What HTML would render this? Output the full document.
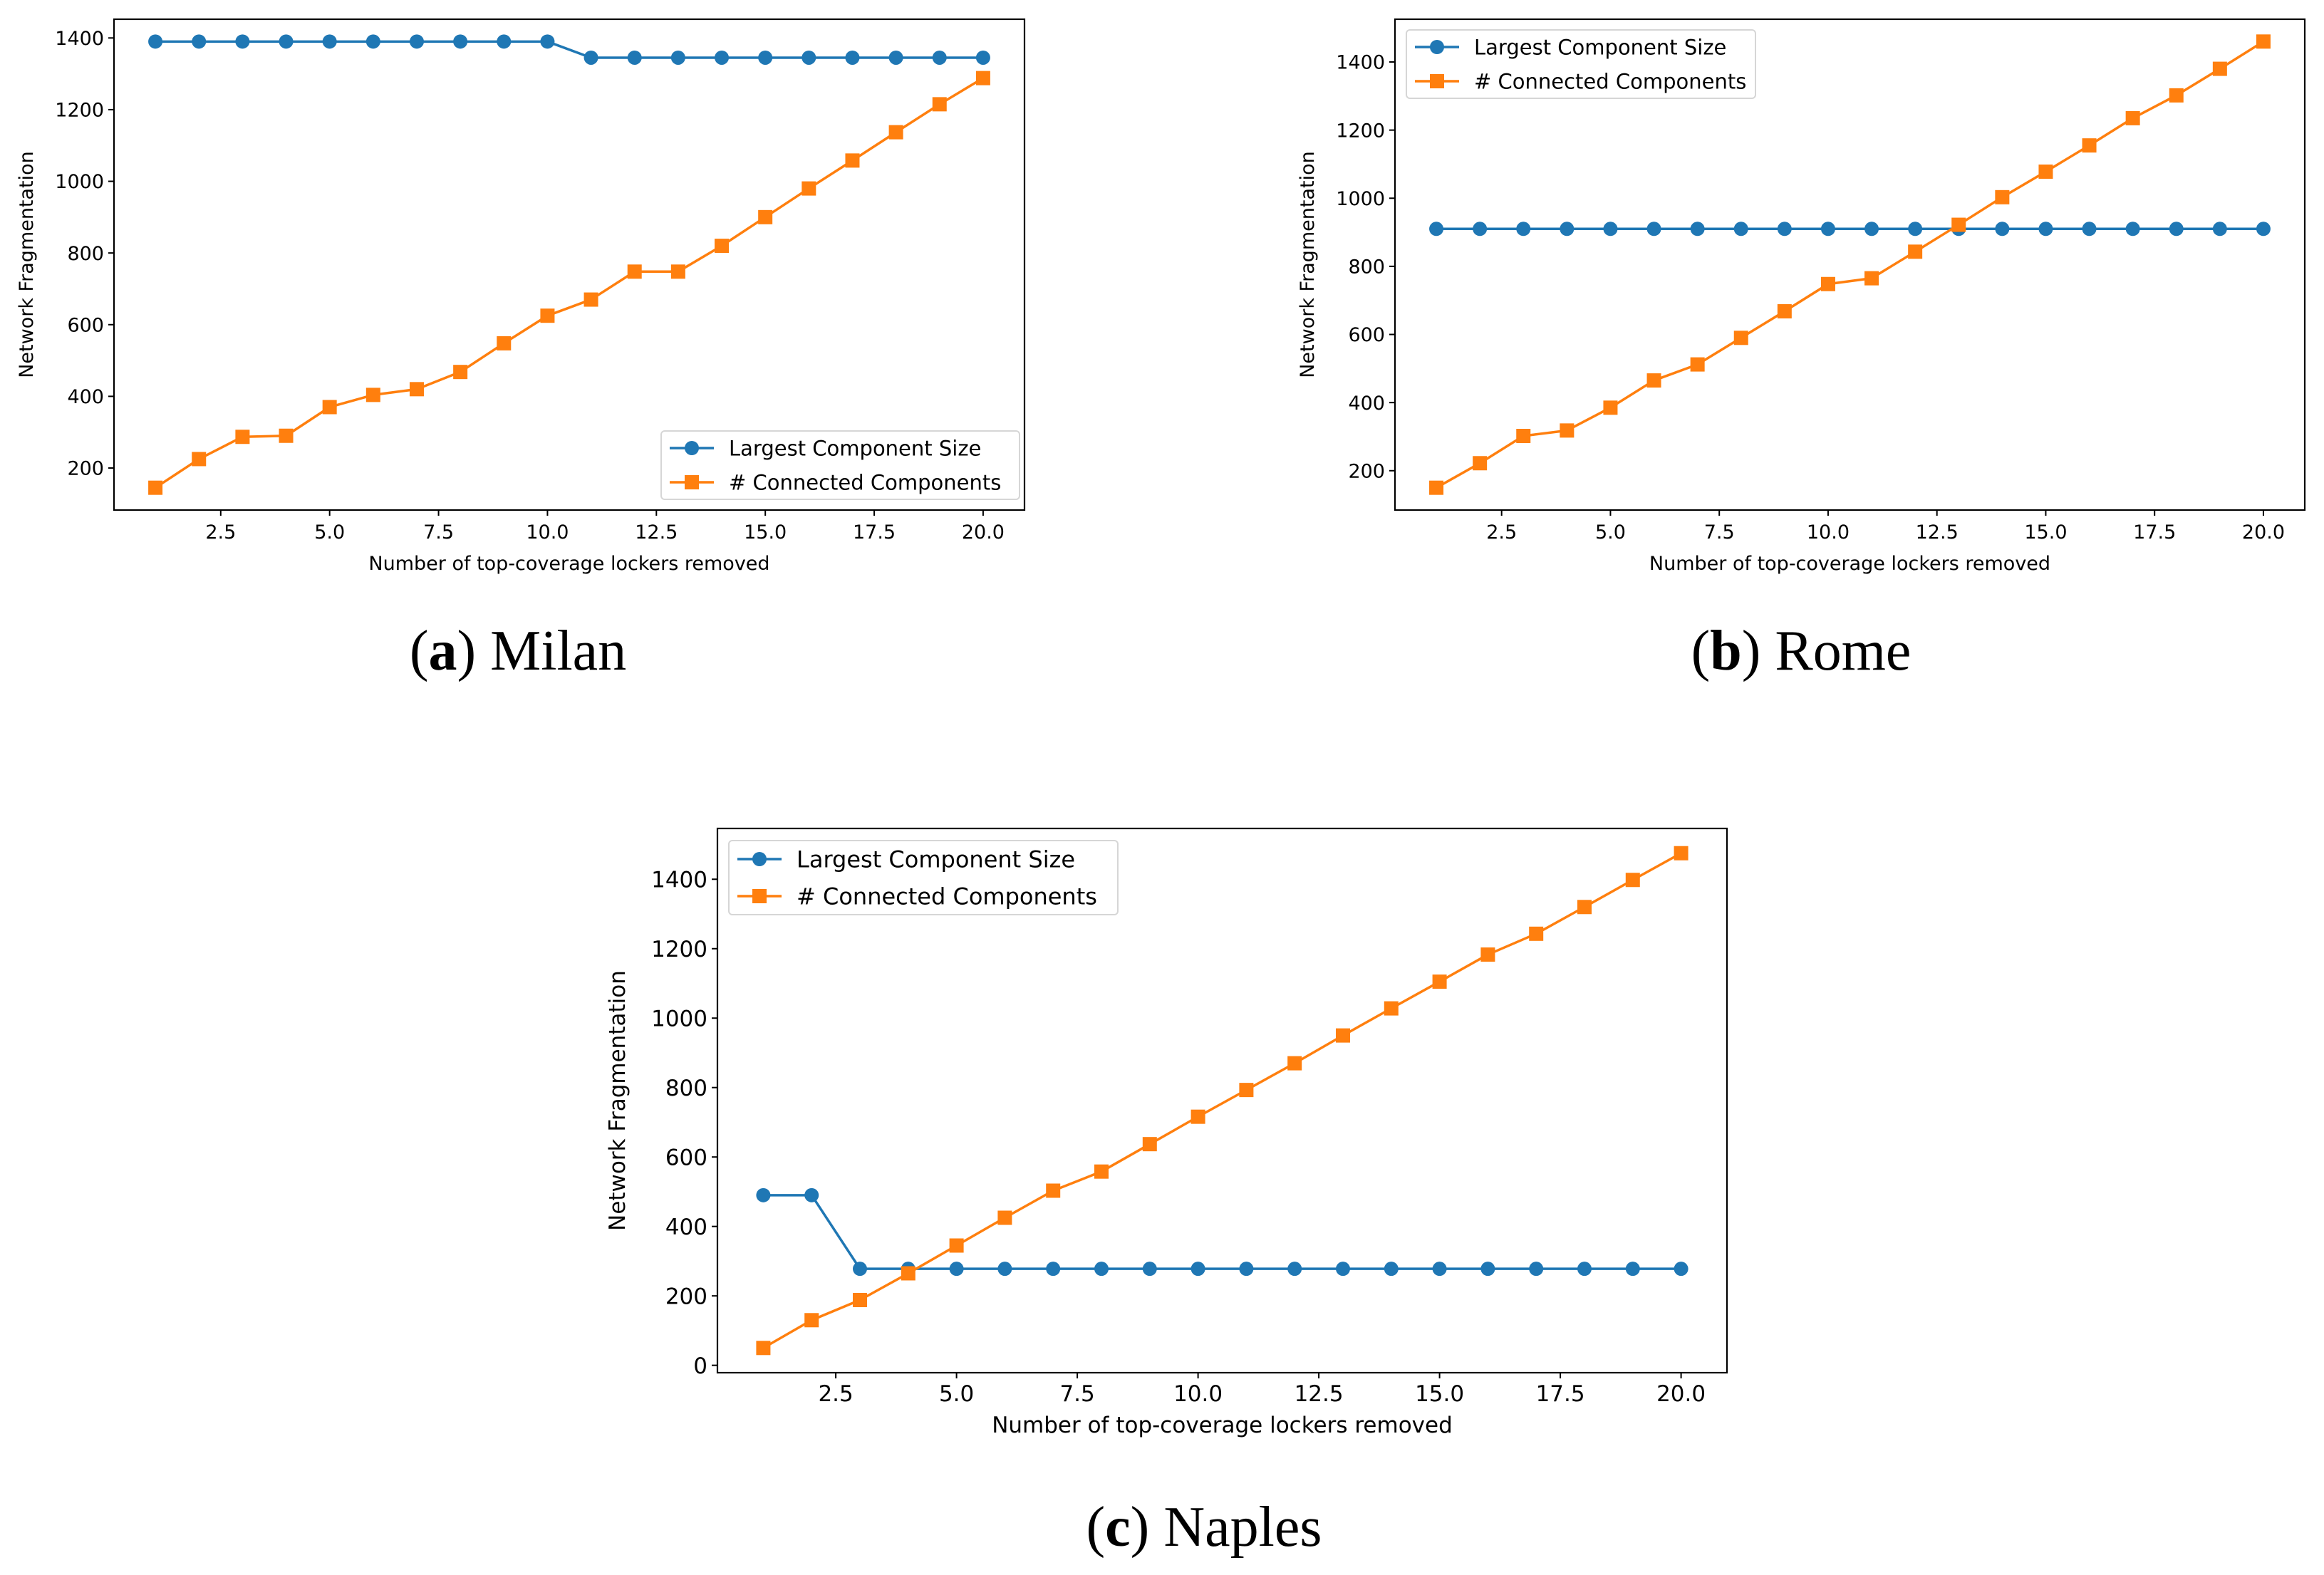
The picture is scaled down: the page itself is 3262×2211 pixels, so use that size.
<!DOCTYPE html>
<html><head><meta charset="utf-8">
<style>
html,body{margin:0;padding:0;background:#fff;}
svg{display:block;}
text{font-family:"DejaVu Sans","Liberation Sans",sans-serif;fill:#000;}
.cap{font-family:"Liberation Serif",serif;}
</style></head>
<body>
<svg id="fig" width="3262" height="2211" viewBox="0 0 3262 2211" xmlns="http://www.w3.org/2000/svg"></svg>
<script>
const xValues = [1,2,3,4,5,6,7,8,9,10,11,12,13,14,15,16,17,18,19,20];
const xTicks = [2.5,5.0,7.5,10.0,12.5,15.0,17.5,20.0];
const milanLargest = [1390,1390,1390,1390,1390,1390,1390,1390,1390,1390,1345,1345,1345,1345,1345,1345,1345,1345,1345,1345];
const milanComponents = [145,225,287,290,370,404,420,468,548,625,670,748,748,820,900,980,1058,1137,1215,1288];
const milanYTicks = [200,400,600,800,1000,1200,1400];
const romeLargest = [910,910,910,910,910,910,910,910,910,910,910,910,910,910,910,910,910,910,910,910];
const romeComponents = [150,222,302,318,385,465,512,590,668,748,765,843,922,1003,1078,1155,1235,1302,1380,1460];
const romeYTicks = [200,400,600,800,1000,1200,1400];
const naplesLargest = [490,490,278,278,278,278,278,278,278,278,278,278,278,278,278,278,278,278,278,278];
const naplesComponents = [50,130,188,265,345,425,503,558,637,716,793,870,950,1028,1105,1183,1243,1320,1398,1475];
const naplesYTicks = [0,200,400,600,800,1000,1200,1400];

const NS = "http://www.w3.org/2000/svg";
const fig = document.getElementById('fig');
function mk(tag, attrs, parent){
  const e = document.createElementNS(NS, tag);
  for (const k in attrs) e.setAttribute(k, attrs[k]);
  (parent||fig).appendChild(e);
  return e;
}
function drawChart(key, box, largest, comps, yTicks, legendPos, fs, lfs, ylOff, caption){
  const g = mk('g', {});
  
  
  const all = largest.concat(comps);
  const ymin = Math.min(...all), ymax = Math.max(...all);
  const yr = ymax - ymin;
  const y0 = ymin - 0.05*yr, y1 = ymax + 0.05*yr;
  const xmin = Math.min(...xValues), xmax = Math.max(...xValues);
  const x0 = xmin - 0.05*(xmax-xmin), x1 = xmax + 0.05*(xmax-xmin);
  const sx = v => box.l + (v - x0)/(x1 - x0)*(box.r - box.l);
  const sy = v => box.b - (v - y0)/(y1 - y0)*(box.b - box.t);
  xTicks.forEach(t=>{
    const x = sx(t);
    const tl = mk('line',{x1:x,x2:x,y1:box.b,y2:box.b+8,stroke:'#000','stroke-width':2},g);
    
    
    const tx = mk('text',{x:x,y:box.b+40,'font-size':fs,'text-anchor':'middle'},g);
    tx.textContent = t.toFixed(1);
    
    
  });
  yTicks.forEach(t=>{
    const y = sy(t);
    const tl = mk('line',{x1:box.l-8,x2:box.l,y1:y,y2:y,stroke:'#000','stroke-width':2},g);
    
    
    const tx = mk('text',{x:box.l-14,y:y+fs*0.36,'font-size':fs,'text-anchor':'end'},g);
    tx.textContent = String(t);
    
    
  });
  const xl = mk('text',{x:(box.l+box.r)/2,y:box.b+84,'font-size':fs,'text-anchor':'middle'},g);
  xl.textContent = 'Number of top-coverage lockers removed';
  
  
  const ycx = box.l - ylOff, ycy = (box.t+box.b)/2;
  const yl = mk('text',{x:ycx,y:ycy,'font-size':fs,'text-anchor':'middle',transform:`rotate(-90 ${ycx} ${ycy})`},g);
  yl.textContent = 'Network Fragmentation';
  
  
  const series = [[largest,'#1f77b4','circle','largest-component-size'],[comps,'#ff7f0e','square','connected-components']];
  series.forEach(([vals,col,shape,nm])=>{
    const pts = vals.map((v,i)=>sx(xValues[i])+','+sy(v)).join(' ');
    const pl = mk('polyline',{points:pts,fill:'none',stroke:col,'stroke-width':3.5,'stroke-linejoin':'round'},g);
    
    
    vals.forEach((v,i)=>{
      const cx = sx(xValues[i]), cy = sy(v);
      let m;
      if (shape==='circle') m = mk('circle',{cx:cx,cy:cy,r:10,fill:col},g);
      else m = mk('rect',{x:cx-10,y:cy-10,width:20,height:20,fill:col},g);
      
      
    });
  });
  const fr = mk('rect',{x:box.l,y:box.t,width:box.r-box.l,height:box.b-box.t,fill:'none',stroke:'#000','stroke-width':2.2},g);
  
  
  const L = legendPos;
  const lg = mk('g',{},g);
  
  
  mk('rect',{x:L.x,y:L.y,width:L.w,height:L.h,rx:5,fill:'#fff',stroke:'#d6d6d6','stroke-width':2},lg);
  const rowH = L.h/2;
  series.forEach(([vals,col,shape,nm],k)=>{
    const cy = L.y + rowH*(k+0.5);
    const e = mk('g',{},lg);
    
    
    mk('line',{x1:L.x+12,x2:L.x+74,y1:cy,y2:cy,stroke:col,'stroke-width':3.5},e);
    if (shape==='circle') mk('circle',{cx:L.x+43,cy:cy,r:10,fill:col},e);
    else mk('rect',{x:L.x+33,y:cy-10,width:20,height:20,fill:col},e);
    const t = mk('text',{x:L.x+95,y:cy+lfs*0.36,'font-size':lfs},e);
    t.textContent = k===0 ? 'Largest Component Size' : '# Connected Components';
  });
  const c = mk('text',{x:caption.x,y:caption.y,'font-size':80,'text-anchor':'middle','class':'cap'});
  
  
  const b1 = document.createElementNS(NS,'tspan'); b1.textContent='('; c.appendChild(b1);
  const b2 = document.createElementNS(NS,'tspan'); b2.setAttribute('font-weight','bold'); b2.textContent=caption.letter; c.appendChild(b2);
  const b3 = document.createElementNS(NS,'tspan'); b3.textContent=') '+caption.name; c.appendChild(b3);
}
drawChart('milan',{l:160,r:1438,t:27,b:716},milanLargest,milanComponents,milanYTicks,{x:928,y:605,w:503,h:96},27,29,114,{x:727,y:940,letter:'a',name:'Milan'});
drawChart('rome',{l:1958,r:3235,t:27,b:716},romeLargest,romeComponents,romeYTicks,{x:1974,y:42,w:490,h:96},27,29,114,{x:2528,y:940,letter:'b',name:'Rome'});
drawChart('naples',{l:1007,r:2424,t:1163,b:1927},naplesLargest,naplesComponents,naplesYTicks,{x:1023,y:1180,w:546,h:104},31,32,130,{x:1690,y:2170,letter:'c',name:'Naples'});
</script>
</body></html>
